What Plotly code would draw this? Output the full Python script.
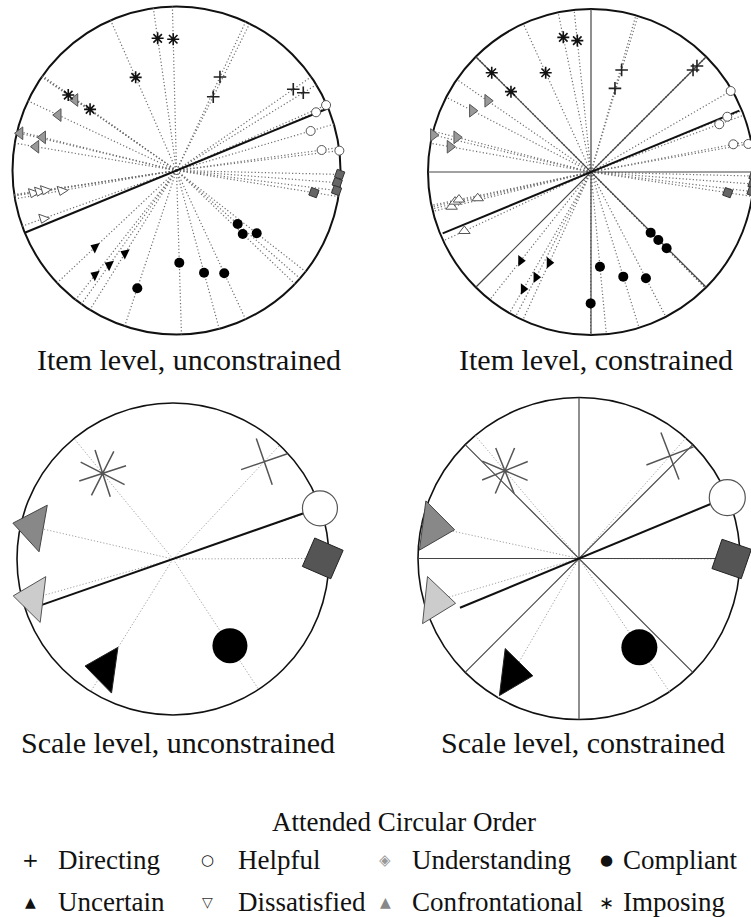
import math
import plotly.graph_objects as go

W, H = 751, 917

CATEGORIES = ["Directing", "Helpful", "Understanding", "Compliant",
              "Uncertain", "Dissatisfied", "Confrontational", "Imposing"]

# ---------------- Item level, unconstrained (unit-circle coordinates) ----------------
IU_DIRECTING_X = [0.265, 0.224, 0.712, 0.773]
IU_DIRECTING_Y = [0.570, 0.450, 0.495, 0.474]
IU_HELPFUL_X = [0.912, 0.851, 0.818, 0.885, 0.993]
IU_HELPFUL_Y = [0.399, 0.355, 0.241, 0.125, 0.121]
IU_UNDERSTANDING_X = [0.995, 0.980, 0.976, 0.838]
IU_UNDERSTANDING_Y = [-0.024, -0.074, -0.122, -0.135]
IU_COMPLIANT_X = [0.373, 0.404, 0.489, 0.017, 0.168, 0.291, -0.239]
IU_COMPLIANT_Y = [-0.326, -0.387, -0.383, -0.562, -0.623, -0.627, -0.718]
IU_UNCERTAIN_X = [-0.497, -0.410, -0.314, -0.497]
IU_UNCERTAIN_Y = [-0.468, -0.576, -0.505, -0.637]
IU_DISSATISFIED_X = [-0.875, -0.838, -0.802, -0.700, -0.812]
IU_DISSATISFIED_Y = [-0.137, -0.128, -0.119, -0.123, -0.293]
IU_CONFRONTATIONAL_X = [-0.619, -0.721, -0.954, -0.816, -0.857]
IU_CONFRONTATIONAL_Y = [0.430, 0.338, 0.227, 0.202, 0.145]
IU_IMPOSING_X = [-0.115, -0.020, -0.249, -0.660, -0.527]
IU_IMPOSING_Y = [0.806, 0.800, 0.568, 0.460, 0.373]

# ---------------- Item level, constrained ----------------
IC_DIRECTING_X = [0.188, 0.147, 0.626, 0.650]
IC_DIRECTING_Y = [0.626, 0.513, 0.626, 0.650]
IC_HELPFUL_X = [0.857, 0.836, 0.787, 0.873, 0.965]
IC_HELPFUL_Y = [0.497, 0.339, 0.293, 0.170, 0.172]
IC_UNDERSTANDING_X = [1.000, 0.994, 0.988, 0.839]
IC_UNDERSTANDING_Y = [-0.025, -0.074, -0.120, -0.127]
IC_COMPLIANT_X = [0.366, 0.413, 0.464, 0.055, 0.198, 0.337, -0.002]
IC_COMPLIANT_Y = [-0.372, -0.417, -0.468, -0.581, -0.642, -0.652, -0.806]
IC_UNCERTAIN_X = [-0.431, -0.256, -0.337, -0.415]
IC_UNCERTAIN_Y = [-0.544, -0.556, -0.646, -0.718]
IC_DISSATISFIED_X = [-0.855, -0.834, -0.810, -0.695, -0.777]
IC_DISSATISFIED_Y = [-0.213, -0.182, -0.169, -0.161, -0.362]
IC_CONFRONTATIONAL_X = [-0.634, -0.728, -0.967, -0.824, -0.865]
IC_CONFRONTATIONAL_Y = [0.437, 0.376, 0.227, 0.213, 0.155]
IC_IMPOSING_X = [-0.170, -0.084, -0.278, -0.609, -0.491]
IC_IMPOSING_Y = [0.826, 0.806, 0.609, 0.609, 0.493]

# ---------------- Scale level (one point per category, CATEGORIES order) ----------------
SU_X = [0.585, 0.942, 0.960, 0.365, -0.437, -0.897, -0.897, -0.451]
SU_Y = [0.624, 0.325, 0.004, -0.556, -0.704, -0.252, 0.207, 0.549]
SC_X = [0.565, 0.921, 0.948, 0.375, -0.413, -0.893, -0.905, -0.460]
SC_Y = [0.637, 0.378, -0.003, -0.552, -0.713, -0.265, 0.196, 0.545]

# first-dimension axis through the origin (degrees) and its extent (+side, -side)
AXIS_DEG = [22.3, 22.5, 19.3, 22.5]
AXIS_EXTENT = [(1.0, 1.0), (0.985, 0.985), (0.95, 0.9), (0.99, 0.8)]
CONSTRAINT_DEG = [0, 45, 90, 135]

TITLES = ["Item level, unconstrained", "Item level, constrained",
          "Scale level, unconstrained", "Scale level, constrained"]

# ---------------- layout geometry (pixels) ----------------
# box x0, x1, y0, y1, center cx, cy, radius
PANELS = [
    (0, 375, 0, 345, 176.5, 170.5, 164),
    (376, 751, 0, 345, 591, 172, 163),
    (0, 375, 380, 730, 173, 559, 156),
    (376, 751, 380, 730, 579, 558.5, 161),
]
TITLE_POS = [(189, 359), (596, 359), (178, 742), (583, 742)]

SERIF = "Liberation Serif, Times New Roman, serif"

item_free = {
    "Directing": (IU_DIRECTING_X, IU_DIRECTING_Y),
    "Helpful": (IU_HELPFUL_X, IU_HELPFUL_Y),
    "Understanding": (IU_UNDERSTANDING_X, IU_UNDERSTANDING_Y),
    "Compliant": (IU_COMPLIANT_X, IU_COMPLIANT_Y),
    "Uncertain": (IU_UNCERTAIN_X, IU_UNCERTAIN_Y),
    "Dissatisfied": (IU_DISSATISFIED_X, IU_DISSATISFIED_Y),
    "Confrontational": (IU_CONFRONTATIONAL_X, IU_CONFRONTATIONAL_Y),
    "Imposing": (IU_IMPOSING_X, IU_IMPOSING_Y),
}
item_con = {
    "Directing": (IC_DIRECTING_X, IC_DIRECTING_Y),
    "Helpful": (IC_HELPFUL_X, IC_HELPFUL_Y),
    "Understanding": (IC_UNDERSTANDING_X, IC_UNDERSTANDING_Y),
    "Compliant": (IC_COMPLIANT_X, IC_COMPLIANT_Y),
    "Uncertain": (IC_UNCERTAIN_X, IC_UNCERTAIN_Y),
    "Dissatisfied": (IC_DISSATISFIED_X, IC_DISSATISFIED_Y),
    "Confrontational": (IC_CONFRONTATIONAL_X, IC_CONFRONTATIONAL_Y),
    "Imposing": (IC_IMPOSING_X, IC_IMPOSING_Y),
}

def item_style(cat, constrained):
    s = {
        "Directing": dict(symbol="cross-thin", size=9, color="#222",
                          line=dict(color="#222", width=1.6)),
        "Helpful": dict(symbol="circle", size=9, color="white",
                        line=dict(color="#555", width=1)),
        "Understanding": dict(symbol="square", size=8, color="#666",
                              line=dict(color="#333", width=1), angle=20),
        "Compliant": dict(symbol="circle", size=10, color="black",
                          line=dict(width=0)),
        "Uncertain": dict(symbol="triangle-right" if constrained else "triangle-left",
                          size=10, color="black", line=dict(width=0),
                          angle=0 if constrained else 25),
        "Dissatisfied": dict(symbol="triangle-up" if constrained else "triangle-down",
                             size=10, color="white",
                             line=dict(color="#555", width=1),
                             angle=0 if constrained else 20),
        "Confrontational": dict(symbol="triangle-right" if constrained else "triangle-left",
                                size=11, color="#999",
                                line=dict(color="#555", width=1)),
        "Imposing": dict(symbol="asterisk", size=10, color="#111",
                         line=dict(color="#111", width=1.6)),
    }
    return s[cat]

def scale_style(cat, constrained):
    if constrained:
        s = {
            "Directing": dict(symbol="cross-thin", size=36, angle=-21, color="#555",
                              line=dict(color="#555", width=1.5)),
            "Helpful": dict(symbol="circle", size=36, color="white",
                            line=dict(color="#555", width=1.2)),
            "Understanding": dict(symbol="square", size=31, angle=19, color="#555",
                                  line=dict(color="#222", width=1)),
            "Compliant": dict(symbol="circle", size=36, color="black", line=dict(width=0)),
            "Uncertain": dict(symbol="triangle-right", size=41, angle=7, color="black",
                              line=dict(color="#222", width=1)),
            "Dissatisfied": dict(symbol="triangle-right", size=41, angle=6, color="#cccccc",
                                 line=dict(color="#555", width=1)),
            "Confrontational": dict(symbol="triangle-right", size=43, angle=7.5,
                                    color="#888888", line=dict(color="#444", width=1)),
            "Imposing": dict(symbol="asterisk", size=41, angle=-22, color="#555",
                             line=dict(color="#555", width=1.5)),
        }
    else:
        s = {
            "Directing": dict(symbol="cross-thin", size=35, angle=-19, color="#555",
                              line=dict(color="#555", width=1.5)),
            "Helpful": dict(symbol="circle", size=35, color="white",
                            line=dict(color="#555", width=1.2)),
            "Understanding": dict(symbol="square", size=31, angle=23.5, color="#555",
                                  line=dict(color="#222", width=1)),
            "Compliant": dict(symbol="circle", size=35, color="black", line=dict(width=0)),
            "Uncertain": dict(symbol="triangle-left", size=40, angle=8, color="black",
                              line=dict(color="#222", width=1)),
            "Dissatisfied": dict(symbol="triangle-left", size=40, angle=7, color="#cccccc",
                                 line=dict(color="#555", width=1)),
            "Confrontational": dict(symbol="triangle-left", size=41, angle=10,
                                    color="#888888", line=dict(color="#444", width=1)),
            "Imposing": dict(symbol="asterisk", size=41, angle=-18, color="#555",
                             line=dict(color="#555", width=1.5)),
        }
    return s[cat]

fig = go.Figure()

def axnames(k):
    return ("x" if k == 0 else f"x{k+1}", "y" if k == 0 else f"y{k+1}")

def rays(xs, ys, k, color, width, dash):
    xa, ya = axnames(k)
    lx, ly = [], []
    for x, y in zip(xs, ys):
        r = math.hypot(x, y)
        lx += [0, x / r, None]
        ly += [0, y / r, None]
    fig.add_trace(go.Scatter(x=lx, y=ly, mode="lines", xaxis=xa, yaxis=ya,
                             line=dict(color=color, width=width, dash=dash),
                             hoverinfo="skip", showlegend=False))

def diameters(degs, k, color, width):
    xa, ya = axnames(k)
    lx, ly = [], []
    for d in degs:
        c, s = math.cos(math.radians(d)), math.sin(math.radians(d))
        lx += [-c, c, None]
        ly += [-s, s, None]
    fig.add_trace(go.Scatter(x=lx, y=ly, mode="lines", xaxis=xa, yaxis=ya,
                             line=dict(color=color, width=width),
                             hoverinfo="skip", showlegend=False))

def main_axis(k, width):
    xa, ya = axnames(k)
    d = math.radians(AXIS_DEG[k])
    rp, rn = AXIS_EXTENT[k]
    fig.add_trace(go.Scatter(x=[-rn * math.cos(d), rp * math.cos(d)],
                             y=[-rn * math.sin(d), rp * math.sin(d)],
                             mode="lines", xaxis=xa, yaxis=ya,
                             line=dict(color="#111", width=width),
                             hoverinfo="skip", showlegend=False))

def markers(xs, ys, k, style, name):
    xa, ya = axnames(k)
    fig.add_trace(go.Scatter(x=xs, y=ys, mode="markers", xaxis=xa, yaxis=ya,
                             marker=style, name=name, showlegend=False,
                             cliponaxis=True))

# ---- item panels ----
for k, data in ((0, item_free), (1, item_con)):
    allx = [v for c in CATEGORIES for v in data[c][0]]
    ally = [v for c in CATEGORIES for v in data[c][1]]
    rays(allx, ally, k, "#6e6e6e", 1.2, "1.2px,2.2px")
    if k == 1:
        diameters(CONSTRAINT_DEG, k, "#444", 1.2)
    main_axis(k, 2)
    for c in CATEGORIES:
        markers(data[c][0], data[c][1], k, item_style(c, k == 1), c)

# ---- scale panels ----
for k, (sx, sy) in ((2, (SU_X, SU_Y)), (3, (SC_X, SC_Y))):
    rays(sx, sy, k, "#a0a0a0", 1, "1.2px,2px")
    if k == 3:
        diameters(CONSTRAINT_DEG, k, "#444", 1.2)
    main_axis(k, 2)
    for i, c in enumerate(CATEGORIES):
        markers([sx[i]], [sy[i]], k, scale_style(c, k == 3), c)

# ---- axes, circles ----
layout = dict(width=W, height=H, margin=dict(l=0, r=0, t=0, b=0),
              paper_bgcolor="white", plot_bgcolor="white", showlegend=False)
shapes = []
for k, (x0, x1, y0, y1, cx, cy, R) in enumerate(PANELS):
    xa, ya = axnames(k)
    xkey = "xaxis" if k == 0 else f"xaxis{k+1}"
    ykey = "yaxis" if k == 0 else f"yaxis{k+1}"
    layout[xkey] = dict(domain=[x0 / W, x1 / W], range=[(x0 - cx) / R, (x1 - cx) / R],
                        visible=False, fixedrange=True, anchor=ya)
    layout[ykey] = dict(domain=[1 - y1 / H, 1 - y0 / H], range=[(cy - y1) / R, (cy - y0) / R],
                        visible=False, fixedrange=True, anchor=xa)
    shapes.append(dict(type="circle", xref=xa, yref=ya, x0=-1, y0=-1, x1=1, y1=1,
                       line=dict(color="#111", width=2 if k < 2 else 1.6), layer="below"))
layout["shapes"] = shapes

ann = []
for (tx, ty), t in zip(TITLE_POS, TITLES):
    ann.append(dict(text=t, x=tx / W, y=1 - ty / H, xref="paper", yref="paper",
                    showarrow=False, xanchor="center", yanchor="middle",
                    font=dict(family=SERIF, size=30, color="#111")))

# ---- legend (text) ----
LEGEND_TITLE = "Attended Circular Order"
LEGEND_SYMBOLS = ["+", "○", "◈", "●", "▲", "▽", "▲", "∗"]
LEGEND_SYMBOL_COLORS = ["#111", "#111", "#999", "#111", "#111", "#333", "#888", "#111"]
LEGEND_SYMBOL_SIZES = [20, 15, 15, 15, 14, 14, 14, 18]
COL_SYM_X = [30, 208, 385, 606]
COL_LAB_X = [56, 236, 410, 621]
ROW_Y = [860, 902]

ann.append(dict(text=LEGEND_TITLE, x=404 / W, y=1 - 822 / H, xref="paper", yref="paper",
                showarrow=False, xanchor="center", yanchor="middle",
                font=dict(family=SERIF, size=27, color="#111")))
for i, c in enumerate(CATEGORIES):
    row, col = divmod(i, 4)
    yy = 1 - ROW_Y[row] / H
    ann.append(dict(text=LEGEND_SYMBOLS[i], x=COL_SYM_X[col] / W, y=yy,
                    xref="paper", yref="paper", showarrow=False,
                    xanchor="center", yanchor="middle",
                    font=dict(family="DejaVu Sans", size=LEGEND_SYMBOL_SIZES[i],
                              color=LEGEND_SYMBOL_COLORS[i])))
    ann.append(dict(text=c, x=COL_LAB_X[col] / W, y=yy, xref="paper", yref="paper",
                    showarrow=False, xanchor="left", yanchor="middle",
                    font=dict(family=SERIF, size=27, color="#111")))
layout["annotations"] = ann

fig.update_layout(**layout)
fig.write_html("out.html", config={"displayModeBar": False, "staticPlot": True},
               post_script="document.body.style.margin='0';")
